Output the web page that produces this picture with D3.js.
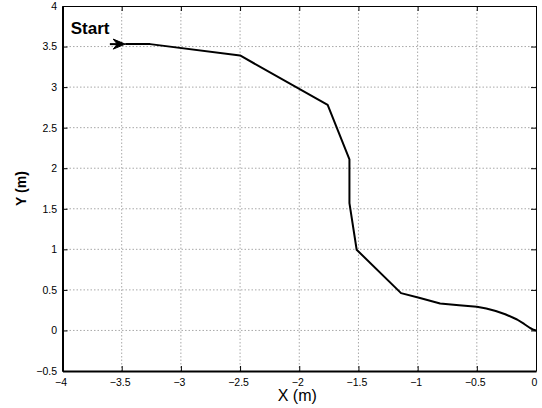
<!DOCTYPE html>
<html>
<head>
<meta charset="utf-8">
<script src="https://cdn.jsdelivr.net/npm/d3@7"></script>
<style>
  body { margin: 0; background: #fff; }
  text { font-family: "Liberation Sans", Arial, sans-serif; }
</style>
</head>
<body>
<div id="chart"></div>
<script>
// path of the robot (X, Y in metres)
const pathX = [-3.47, -3.26, -2.5, -1.76, -1.576, -1.576, -1.515, -1.14, -0.98, -0.81, -0.65, -0.5, -0.42, -0.34, -0.26, -0.16, -0.1, -0.05, -0.02, 0];
const pathY = [3.53, 3.53, 3.39, 2.78, 2.11, 1.57, 0.995, 0.46, 0.40, 0.332, 0.31, 0.292, 0.27, 0.24, 0.2, 0.135, 0.08, 0.03, 0.008, 0];

// start annotation arrow
const arrowX = [-3.6, -3.47];
const arrowY = [3.53, 3.53];

const xTicks = [-4, -3.5, -3, -2.5, -2, -1.5, -1, -0.5, 0];
const yTicks = [-0.5, 0, 0.5, 1, 1.5, 2, 2.5, 3, 3.5, 4];

const W = 542, H = 408;
const mLeft = 62.5, mTop = 6, pw = 473.5, ph = 365;

const svg = d3.select("#chart").append("svg")
    .attr("width", W)
    .attr("height", H);

const g = svg.append("g").attr("transform", `translate(${mLeft}, ${mTop})`);

const x = d3.scaleLinear().domain([-4, 0]).range([0, pw]);
const y = d3.scaleLinear().domain([-0.5, 4]).range([ph, 0]);
const fmt = d3.format("");

// grid
g.append("g").selectAll("line")
    .data(xTicks.slice(1, -1))
    .join("line")
    .attr("x1", d => x(d)).attr("x2", d => x(d))
    .attr("y1", 0).attr("y2", ph)
    .attr("stroke", "#a8a8a8").attr("stroke-width", 1).attr("stroke-dasharray", "1.5,2");
g.append("g").selectAll("line")
    .data(yTicks.slice(1, -1))
    .join("line")
    .attr("y1", d => y(d)).attr("y2", d => y(d))
    .attr("x1", 0).attr("x2", pw)
    .attr("stroke", "#a8a8a8").attr("stroke-width", 1).attr("stroke-dasharray", "1.5,2");

// axes (ticks inside, on all four sides)
const bottom = g.append("g").attr("transform", `translate(0, ${ph})`)
    .call(d3.axisBottom(x).tickValues(xTicks).tickSizeInner(-5).tickSizeOuter(0).tickFormat(fmt));
const leftAx = g.append("g")
    .call(d3.axisLeft(y).tickValues(yTicks).tickSizeInner(-5).tickSizeOuter(0).tickFormat(fmt));
g.append("g")
    .call(d3.axisTop(x).tickValues(xTicks).tickSizeInner(-5).tickSizeOuter(0).tickFormat(""));
g.append("g").attr("transform", `translate(${pw}, 0)`)
    .call(d3.axisRight(y).tickValues(yTicks).tickSizeInner(-5).tickSizeOuter(0).tickFormat(""));

g.selectAll(".domain").attr("stroke", "#000").attr("stroke-width", 1);
g.selectAll(".tick line").attr("stroke", "#000");
bottom.select(".domain").attr("stroke-width", 2);
leftAx.select(".domain").attr("stroke-width", 2);

bottom.selectAll(".tick text")
    .attr("y", 8).attr("dy", "0.71em").attr("dx", -2)
    .style("font-size", "10.5px").attr("fill", "#000");
leftAx.selectAll(".tick text")
    .attr("x", -5.5)
    .style("font-size", "10.5px").attr("fill", "#000");

// path line
const pts = pathX.map((d, i) => [d, pathY[i]]);
g.append("path")
    .datum(pts)
    .attr("fill", "none")
    .attr("stroke", "#000")
    .attr("stroke-width", 2)
    .attr("stroke-linejoin", "round")
    .attr("d", d3.line().x(d => x(d[0])).y(d => y(d[1])));

// start arrow
const ax0 = x(arrowX[0]), ax1 = x(arrowX[1]), ay = y(arrowY[0]);
g.append("line")
    .attr("x1", ax0).attr("x2", ax1 - 4)
    .attr("y1", ay).attr("y2", ay)
    .attr("stroke", "#000").attr("stroke-width", 2);
g.append("path")
    .attr("d", `M${ax1},${ay} L${ax1 - 12},${ay - 5} L${ax1 - 8},${ay} L${ax1 - 12},${ay + 5} Z`)
    .attr("fill", "#000").attr("stroke", "#000").attr("stroke-width", 1);

g.append("text")
    .attr("x", x(-3.93)).attr("y", y(3.65))
    .text("Start")
    .style("font-size", "17px").style("font-weight", "bold");

// axis labels
svg.append("text")
    .attr("x", mLeft + pw / 2 - 2).attr("y", 401)
    .attr("text-anchor", "middle")
    .text("X (m)")
    .style("font-size", "16px");

svg.append("text")
    .attr("transform", `translate(26, ${mTop + ph / 2}) rotate(-90)`)
    .attr("text-anchor", "middle")
    .text("Y (m)")
    .style("font-size", "14px").style("font-weight", "bold");
</script>
</body>
</html>
